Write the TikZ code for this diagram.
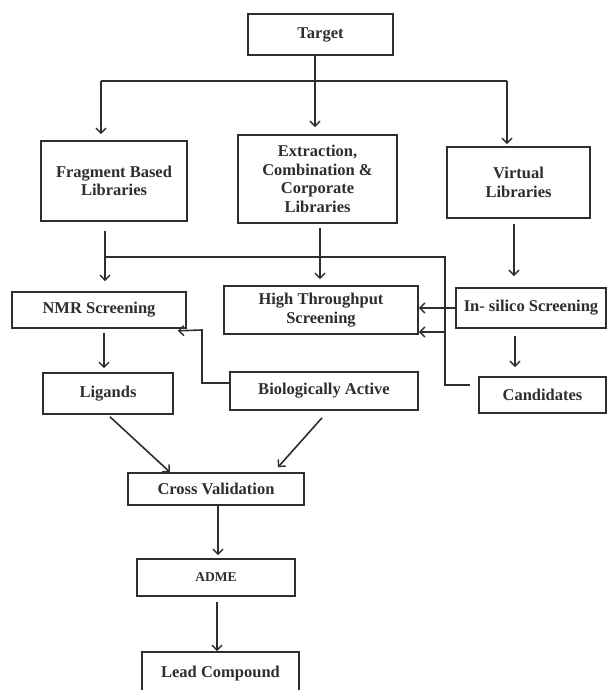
\documentclass[tikz,border=0pt]{standalone}
\usepackage{fontspec}
\setmainfont{Liberation Serif}
\usetikzlibrary{arrows.meta}
\definecolor{ink}{HTML}{2E2E2E}
\begin{document}
\begin{tikzpicture}[x=1pt,y=-1pt,
  ln/.style={draw=ink,line width=1.6pt},
  arr/.style={ln,-{Straight Barb[length=5pt,width=10pt,line width=1.4pt]}},
  box/.style={draw=ink,line width=1.6pt,inner sep=0pt,align=center,text=ink,
    font=\fontsize{16.5}{18.7}\selectfont\bfseries},
]
\useasboundingbox (0,0) rectangle (608,690);
\clip (0,0) rectangle (608,690);
\fill[white] (0,0) rectangle (608,690);

% boxes
\node[box,minimum width=145pt,minimum height=41pt] (target) at (320.5,34.5) {Target};
\node[box,minimum width=146pt,minimum height=80pt] (frag) at (114,181) {Fragment Based\\Libraries};
\node[box,minimum width=159pt,minimum height=88pt] (extr) at (317.5,179) {Extraction,\\Combination \&\\Corporate\\Libraries};
\node[box,minimum width=143pt,minimum height=71pt] (virt) at (518.5,182.5) {Virtual\\Libraries};
\node[box,minimum width=174pt,minimum height=36pt] (nmr) at (99,310) {NMR Screening};
\node[box,minimum width=194pt,minimum height=48pt] (hts) at (321,310) {High Throughput\\Screening};
\node[box,minimum width=150pt,minimum height=40pt] (insil) at (531,308) {In- silico Screening};
\node[box,minimum width=127pt,minimum height=36pt] (cand) at (542.5,395) {Candidates};
\node[box,minimum width=130pt,minimum height=41pt] (lig) at (108,393.5) {Ligands};
\node[box,minimum width=188pt,minimum height=38pt] (bio) at (324,391) {Biologically Active};
\node[box,minimum width=176pt,minimum height=32pt] (cross) at (216,489) {Cross Validation};
\node[box,minimum width=158pt,minimum height=37pt,font=\fontsize{13.5}{16}\selectfont\bfseries] (adme) at (216,577.5) {ADME};
\node[box,minimum width=157pt,minimum height=44pt] (lead) at (220.5,674) {Lead Compound};

% branching from the target
\coordinate (bl) at (101,81);
\coordinate (br) at (507,81);
\draw[ln] (bl) -- (br);
\draw[arr,shorten >=6pt] (bl) -- (bl |- frag.north);
\draw[arr,shorten >=2pt] (br) -- (br |- virt.north);
\draw[arr,shorten >=7pt] ([xshift=-5.5pt]target.south) -- ([xshift=-5.5pt]target.south |- extr.north);

% libraries to screening
\coordinate (fx) at (105,0);
\draw[arr,shorten <=9pt,shorten >=10pt] (frag.south -| fx) -- (nmr.north -| fx);
\draw[arr,shorten <=4pt,shorten >=6pt] ([xshift=2.5pt]extr.south) -- ([xshift=2.5pt]extr.south |- hts.north);
\draw[arr,shorten <=5pt,shorten >=11pt] ([xshift=-4.5pt]virt.south) -- ([xshift=-4.5pt]virt.south |- insil.north);

% candidates fed back to the screens
\coordinate (cv) at (445,257);
\coordinate (cj) at (445,332);
\coordinate (fj) at (105,257);
\draw[ln] ([shift={(-8pt,10pt)}]cand.west) -| (cv) -- (fj);
\draw[arr] (cj) -- (cj -| hts.east);
\draw[arr] (insil.west) -- (insil.west -| hts.east);
\draw[arr,shorten <=7pt,shorten >=9pt] ([xshift=-16pt]insil.south) -- ([xshift=-16pt]insil.south |- cand.north);

% NMR branch
\draw[arr,shorten <=4pt,shorten >=4pt] ([xshift=5pt]nmr.south) -- ([xshift=5pt]nmr.south |- lig.north);
\coordinate (bk) at (202,330);
\draw[arr] ([yshift=8pt]bio.west) -| (bk) -- ([shift={(-9pt,-2pt)}]nmr.south east);

% validation chain
\draw[arr] ([shift={(2pt,-2pt)}]lig.south) -- ([xshift=-46pt]cross.north);
\draw[arr] ([shift={(-2pt,-7pt)}]bio.south) -- ([shift={(62pt,5pt)}]cross.north);
\draw[arr,shorten >=3pt] ([xshift=2pt]cross.south) -- ([xshift=2pt]cross.south |- adme.north);
\draw[arr,shorten <=5pt] ([xshift=1pt]adme.south) -- ([xshift=1pt]adme.south |- lead.north);
\end{tikzpicture}
\end{document}
